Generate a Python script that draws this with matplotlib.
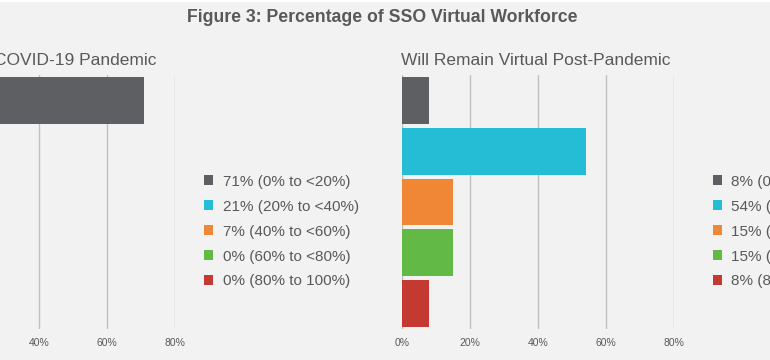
import matplotlib
matplotlib.use("Agg")
import matplotlib.pyplot as plt
from matplotlib.patches import Rectangle

plt.rcParams['font.family'] = ['Liberation Sans', 'DejaVu Sans']

ranges = ["0% to <20%", "20% to <40%", "40% to <60%", "60% to <80%", "80% to 100%"]
during_vals = [71, 21, 7, 0, 0]
post_vals = [8, 54, 15, 15, 8]
colors = ["#5e5f63", "#25bdd5", "#f08736", "#62b946", "#c43a32"]
xticks = [0, 20, 40, 60, 80]
xticklabels = ["0%", "20%", "40%", "60%", "80%"]
main_title = "Figure 3: Percentage of SSO Virtual Workforce"
left_title = "Virtual During COVID-19 Pandemic"
right_title = "Will Remain Virtual Post-Pandemic"

W, H = 770, 360
bg = "#f2f2f2"
txt = "#595959"
fig = plt.figure(figsize=(W/100, H/100), dpi=100, facecolor=bg)
fig.patches.append(Rectangle((0, 1-2/H), 1, 2/H, transform=fig.transFigure,
                             facecolor="white", edgecolor="none", zorder=10))

def fx(px):
    return px / W

def fy(py):
    return 1 - py / H

top_px, bot_px = 75, 329
ax_h = (bot_px - top_px) / H
ppct = 3.4  # pixels per percent

def make_panel(x0_px, vals, title, legend_x_px, title_x):
    ax = fig.add_axes([fx(x0_px), fy(bot_px), 80*ppct/W, ax_h])
    ax.set_facecolor(bg)
    y = list(range(len(vals)))
    bars = ax.barh(y, vals, height=0.92, color=colors, zorder=3)
    ax.set_ylim(len(vals)-0.5, -0.5)
    ax.set_xlim(0, 80)
    ax.set_xticks(xticks)
    ax.set_xticklabels(xticklabels)
    ax.set_yticks([])
    ax.grid(axis='x', color="#bfbfbf", linewidth=1, zorder=0)
    for s in ax.spines.values():
        s.set_visible(False)
    ax.tick_params(axis='x', length=0, pad=6.5, labelsize=7.5, labelcolor=txt)
    ax.set_title(title, loc='left', fontsize=12.5, color=txt, pad=7, x=title_x)
    labels = [f"{v}% ({r})" for v, r in zip(vals, ranges)]
    ax.legend(bars.patches, labels, loc='center left',
              bbox_to_anchor=(fx(legend_x_px), fy(231.5)), bbox_transform=fig.transFigure,
              frameon=False, fontsize=11, labelcolor=txt, handlelength=0.6,
              handleheight=0.6, handletextpad=0.62, labelspacing=0.72,
              borderpad=0, borderaxespad=0)
    return ax

make_panel(-97, during_vals, left_title, 204, -0.07)
make_panel(402, post_vals, right_title, 712.5, -0.004)

fig.text(0.497, fy(17), main_title, ha='center', va='center', fontsize=12.7,
         fontweight='bold', color=txt)

fig.savefig("out.png", dpi=100, facecolor=bg)
